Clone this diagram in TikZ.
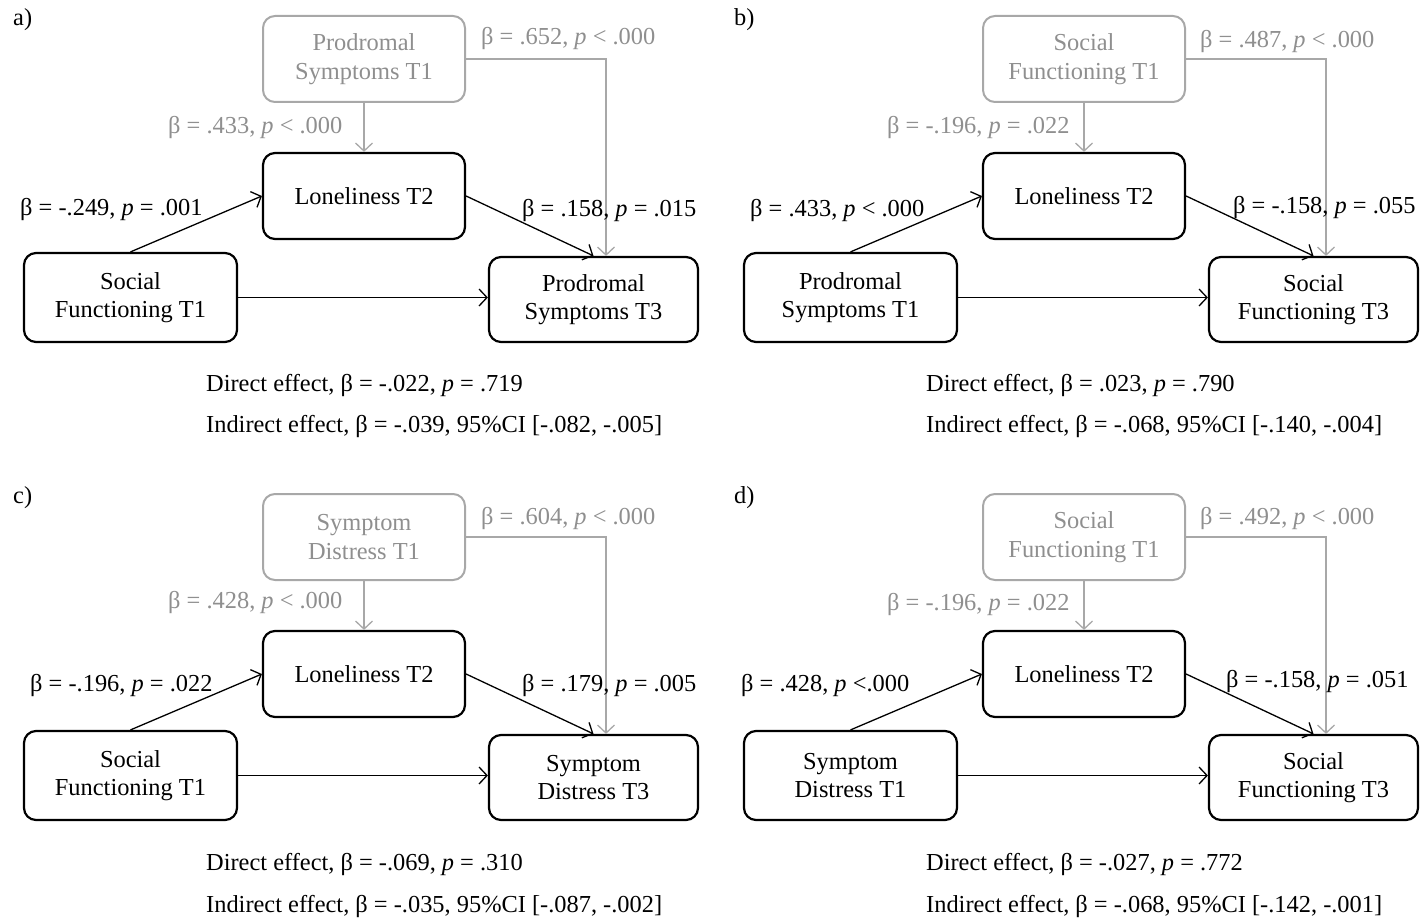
\documentclass[tikz,border=0pt]{standalone}
\usepackage{fontspec}
\setmainfont{Liberation Serif}
\usetikzlibrary{arrows.meta}
\definecolor{gtext}{RGB}{143,143,143}
\definecolor{gline}{RGB}{168,168,168}
\tikzset{
  every node/.style={font=\fontsize{24.4}{28.5}\selectfont},
  blkbox/.style={draw=black, line width=2.2pt, rounded corners=12pt, align=center, inner sep=0pt},
  graybox/.style={draw=gline, text=gtext, line width=2pt, rounded corners=12pt, align=center, inner sep=0pt, minimum width=202pt, minimum height=86pt},
  arr/.style={draw=black, line width=1.3pt, -{Straight Barb[length=8pt,width=17pt,line width=1.3pt]}},
  grayarr/.style={draw=gline, line width=1.3pt, -{Straight Barb[length=8pt,width=17pt,line width=1.3pt]}},
  lbl/.style={anchor=west, inner sep=0pt},
  glbl/.style={anchor=west, inner sep=0pt, text=gtext},
  plbl/.style={anchor=west, inner sep=0pt},
}
\newcommand\mypanel[3]{%
  \node[graybox] (top) at (364,59) {#1};
  \node[blkbox, minimum width=202pt, minimum height=86pt] (lon) at (364,196) {Loneliness T2};
  \node[blkbox, minimum width=213pt, minimum height=89pt] (lft) at (130.5,297.5) {#2};
  \node[blkbox, minimum width=209pt, minimum height=85pt] (rgt) at (593.5,299.5) {#3};
  \draw[grayarr] (top) -- (lon);
  \draw[grayarr] (top.east) -| ([xshift=12.5pt]rgt.north);
  \draw[arr] (lft.north) -- (lon.west);
  \draw[arr] (lon.east) -- (rgt.north);
  \draw[arr] (lft.east) -- (lft.east -| rgt.west);
}
\begin{document}
\begin{tikzpicture}[x=1pt,y=-1pt]
\useasboundingbox (0,0) rectangle (1420,920);
% panel a
\begin{scope}[name prefix=a-]
  \node[plbl] (letter) at (13,20) {a)};
  \mypanel{Prodromal\\Symptoms T1}{Social\\Functioning T1}{Prodromal\\Symptoms T3}
  \node[glbl] (l1) at (481,39) {β = .652, \textit{p} < .000};
  \node[glbl] (l2) at (168,128) {β = .433, \textit{p} < .000};
  \node[lbl] (l3) at (20,210) {β = -.249, \textit{p} = .001};
  \node[lbl] (l4) at (522,211) {β = .158, \textit{p} = .015};
  \node[lbl] (l5) at (206,386) {Direct effect, β = -.022, \textit{p} = .719};
  \node[lbl] (l6) at (206,427) {Indirect effect, β = -.039, 95\%CI [-.082, -.005]};
\end{scope}
% panel b
\begin{scope}[shift={(720,0)}, name prefix=b-]
  \node[plbl] (letter) at (14,20) {b)};
  \mypanel{Social\\Functioning T1}{Prodromal\\Symptoms T1}{Social\\Functioning T3}
  \node[glbl] (l1) at (480,42) {β = .487, \textit{p} < .000};
  \node[glbl] (l2) at (167,128) {β = -.196, \textit{p} = .022};
  \node[lbl] (l3) at (30,211) {β = .433, \textit{p} < .000};
  \node[lbl] (l4) at (513,208) {β = -.158, \textit{p} = .055};
  \node[lbl] (l5) at (206,386) {Direct effect, β = .023, \textit{p} = .790};
  \node[lbl] (l6) at (206,427) {Indirect effect, β = -.068, 95\%CI [-.140, -.004]};
\end{scope}
% panel c
\begin{scope}[shift={(0,478)}, name prefix=c-]
  \node[plbl] (letter) at (13,20) {c)};
  \mypanel{Symptom\\Distress T1}{Social\\Functioning T1}{Symptom\\Distress T3}
  \node[glbl] (l1) at (481,41) {β = .604, \textit{p} < .000};
  \node[glbl] (l2) at (168,125) {β = .428, \textit{p} < .000};
  \node[lbl] (l3) at (30,207) {β = -.196, \textit{p} = .022};
  \node[lbl] (l4) at (522,207) {β = .179, \textit{p} = .005};
  \node[lbl] (l5) at (206,386) {Direct effect, β = -.069, \textit{p} = .310};
  \node[lbl] (l6) at (206,428) {Indirect effect, β = -.035, 95\%CI [-.087, -.002]};
\end{scope}
% panel d
\begin{scope}[shift={(720,478)}, name prefix=d-]
  \node[plbl] (letter) at (14,20) {d)};
  \mypanel{Social\\Functioning T1}{Symptom\\Distress T1}{Social\\Functioning T3}
  \node[glbl] (l1) at (480,41) {β = .492, \textit{p} < .000};
  \node[glbl] (l2) at (167,127) {β = -.196, \textit{p} = .022};
  \node[lbl] (l3) at (21,207) {β = .428, \textit{p} <.000};
  \node[lbl] (l4) at (506,203) {β = -.158, \textit{p} = .051};
  \node[lbl] (l5) at (206,386) {Direct effect, β = -.027, \textit{p} = .772};
  \node[lbl] (l6) at (206,428) {Indirect effect, β = -.068, 95\%CI [-.142, -.001]};
\end{scope}
\end{tikzpicture}
\end{document}
